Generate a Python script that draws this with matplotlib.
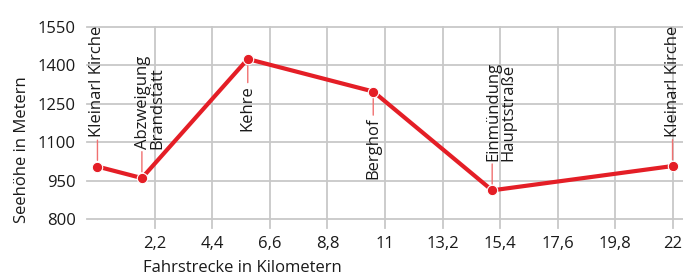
import matplotlib
matplotlib.use("Agg")
import matplotlib.pyplot as plt

# Höhenprofil Kleinarl Rundweg
km = [0.0, 1.7, 5.75, 10.55, 15.1, 22.0]
hoehe = [1005, 960, 1425, 1298, 912, 1007]
orte = ["Kleinarl Kirche", "Abzweigung\nBrandstätt", "Kehre", "Berghof",
        "Einmündung\nHauptstraße", "Kleinarl Kirche"]
oben = [True, True, False, False, True, True]

xticks = [2.2, 4.4, 6.6, 8.8, 11, 13.2, 15.4, 17.6, 19.8, 22]
xticklabels = ["2,2", "4,4", "6,6", "8,8", "11", "13,2", "15,4", "17,6", "19,8", "22"]
yticks = [800, 950, 1100, 1250, 1400, 1550]

rot = "#e41e26"
text_col = "#1a1a1a"
plt.rcParams['font.family'] = ['Open Sans', 'DejaVu Sans']

fig = plt.figure(figsize=(6.83, 2.77), dpi=100)
ax = fig.add_axes([87/683, 1 - 228/277, 596/683, 201/277])

ax.set_xlim(-0.4, 22.4)
ax.set_ylim(765, 1550)
ax.set_xticks(xticks)
ax.set_xticklabels(xticklabels)
ax.set_yticks(yticks)
for s in ax.spines.values():
    s.set_visible(False)
ax.tick_params(length=0, labelsize=12, colors=text_col, pad=8)
ax.tick_params(axis='x', pad=6)

# Gitter
for y in yticks:
    ax.axhline(y, color="#c8c8c8", lw=1.3, zorder=0, clip_on=False)
for x in xticks:
    ax.axvline(x, color="#c8c8c8", lw=1.3, zorder=0, clip_on=False)

ax.plot(km, hoehe, color=rot, lw=3, zorder=3, solid_capstyle='round')
ax.plot(km, hoehe, 'o', color=rot, ms=7.5, mec='white', mew=0.8, zorder=4)

for x, y, name, up in zip(km, hoehe, orte, oben):
    zweizeilig = "\n" in name
    if up:
        ax.annotate("", xy=(x, y), xytext=(0, 19), textcoords='offset points',
                    arrowprops=dict(arrowstyle='-', color="#f07070", lw=1,
                                    shrinkA=0, shrinkB=4.5))
        ax.annotate(name, xy=(x, y), xytext=(-5 if zweizeilig else 0, 21),
                    textcoords='offset points', rotation=90,
                    ha='left' if zweizeilig else 'center', va='bottom',
                    fontsize=12, color=text_col, linespacing=0.9)
    else:
        ax.annotate("", xy=(x, y), xytext=(0, -17), textcoords='offset points',
                    arrowprops=dict(arrowstyle='-', color="#f07070", lw=1,
                                    shrinkA=0, shrinkB=4.5))
        ax.annotate(name, xy=(x, y), xytext=(0, -19),
                    textcoords='offset points', rotation=90,
                    ha='center', va='top', fontsize=12, color=text_col)

fig.text(22/683, 1 - 150/277, "Seehöhe in Metern", rotation=90,
         ha='center', va='center', fontsize=12, color=text_col)
fig.text(143/683, 1 - 268/277, "Fahrstrecke in Kilometern",
         ha='left', va='center', fontsize=12, color=text_col)

fig.savefig("out.png", dpi=100)
